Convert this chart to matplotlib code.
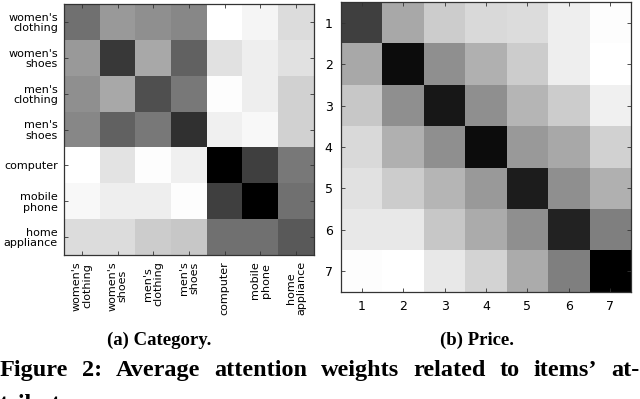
import numpy as np
import matplotlib
matplotlib.use("Agg")
import matplotlib.pyplot as plt

# attention weights (1 = darkest cell)
categories = ["women's\nclothing", "women's\nshoes", "men's\nclothing", "men's\nshoes",
              "computer", "mobile\nphone", "home\nappliance"]
category_weights = [
    [0.56, 0.40, 0.44, 0.47, 0.00, 0.04, 0.14],
    [0.40, 0.78, 0.34, 0.62, 0.12, 0.07, 0.12],
    [0.44, 0.34, 0.69, 0.53, 0.01, 0.07, 0.18],
    [0.47, 0.62, 0.53, 0.81, 0.06, 0.03, 0.18],
    [0.00, 0.11, 0.01, 0.06, 1.00, 0.75, 0.53],
    [0.03, 0.07, 0.07, 0.01, 0.75, 1.00, 0.56],
    [0.14, 0.14, 0.20, 0.22, 0.56, 0.56, 0.65],
]

price_levels = ["1", "2", "3", "4", "5", "6", "7"]
price_weights = [
    [0.75, 0.34, 0.20, 0.15, 0.14, 0.07, 0.01],
    [0.34, 0.95, 0.44, 0.31, 0.20, 0.07, 0.00],
    [0.22, 0.44, 0.91, 0.44, 0.29, 0.20, 0.06],
    [0.15, 0.31, 0.44, 0.95, 0.40, 0.34, 0.18],
    [0.12, 0.20, 0.29, 0.40, 0.89, 0.44, 0.31],
    [0.09, 0.09, 0.22, 0.33, 0.44, 0.86, 0.50],
    [0.01, 0.00, 0.09, 0.17, 0.33, 0.50, 1.00],
]

caption = "Figure 2: Average attention weights related to items\u2019 at-"
caption_cont = "tributes."

W, H = 640, 399


def px_axes(fig, x0, y0, x1, y1):
    # pixel box (top-left origin) -> figure fraction
    return fig.add_axes([x0 / W, 1 - y1 / H, (x1 - x0) / W, (y1 - y0) / H])


def draw_heatmap(ax, data, labels, fontsize, rot, pad):
    ax.imshow(np.array(data), cmap="gray_r", vmin=0, vmax=1,
              interpolation="nearest", aspect="auto")
    n = len(labels)
    ax.set_xticks(range(n))
    ax.set_yticks(range(n))
    ax.set_xticklabels(labels, rotation=rot, fontsize=fontsize, linespacing=1.05)
    ax.set_yticklabels(labels, fontsize=fontsize, linespacing=1.05)
    ax.tick_params(direction="in", length=3, width=0.6, color="#333333",
                   top=True, right=True, pad=pad)
    for s in ax.spines.values():
        s.set_linewidth(0.9)
        s.set_color("#333333")


fig = plt.figure(figsize=(W / 100, H / 100), dpi=100)

ax1 = px_axes(fig, 64, 4, 314, 255)
draw_heatmap(ax1, category_weights, categories, 8, 90, 4.5)

ax2 = px_axes(fig, 341, 2, 631, 292)
draw_heatmap(ax2, price_weights, price_levels, 9, 0, 6)

serif = ["Liberation Serif", "DejaVu Serif"]
fig.text(159 / W, 1 - 340 / H, "(a) Category.", ha="center", va="center",
         fontsize=13.5, fontweight="bold", family=serif)
fig.text(477 / W, 1 - 340 / H, "(b) Price.", ha="center", va="center",
         fontsize=13.5, fontweight="bold", family=serif)

# justified caption: measure the words, spread the leftover space
renderer = fig.canvas.get_renderer()
words = caption.split(" ")
texts = [fig.text(0, 1 - 376 / H, w, ha="left", va="baseline",
                  fontsize=17.5, fontweight="bold", family=serif) for w in words]
widths = [t.get_window_extent(renderer).width for t in texts]
gap = (W - 1 - sum(widths)) / (len(words) - 1)
x = 0.0
for t, w in zip(texts, widths):
    t.set_x(x / W)
    x += w + gap
fig.text(0, 1 - 410 / H, caption_cont, ha="left", va="baseline",
         fontsize=17.5, fontweight="bold", family=serif)

fig.savefig("out.png", dpi=100)
